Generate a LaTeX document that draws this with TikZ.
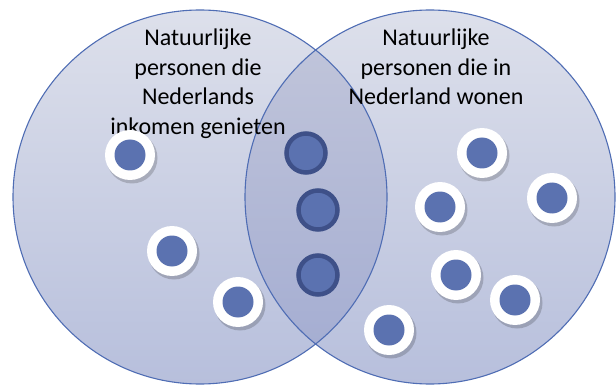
\documentclass[tikz,border=0pt]{standalone}
\usepackage{fontspec}
\setmainfont{Carlito}
\usepackage{xcolor}
\usepackage{tikz}
\definecolor{setedge}{HTML}{4F6DB4}
\definecolor{settop}{HTML}{DDE0EB}
\definecolor{setbot}{HTML}{B7BFDC}
\definecolor{bothtop}{HTML}{C3C7DB}
\definecolor{bothbot}{HTML}{A2ABD1}
\definecolor{dotblue}{HTML}{5B72B0}
\definecolor{dotrim}{HTML}{3E5088}
\tikzstyle{label}=[align=center, inner sep=0pt, anchor=north, font=\fontsize{24}{29.5}\selectfont]
\tikzstyle{ring}=[circle, fill=white, minimum size=50pt, inner sep=0pt]
\tikzstyle{member}=[circle, fill=dotblue, minimum size=31pt, inner sep=0pt]
\tikzstyle{shared}=[circle, fill=dotblue, draw=dotrim, line width=4.5pt, minimum size=39pt, inner sep=0pt]

\begin{document}
\begin{tikzpicture}[x=1pt, y=-1pt]
        \useasboundingbox (0,0) rectangle (616,385);
        % the two sets
        \shade[top color=settop, bottom color=setbot] (200,197) ellipse (187 and 187);
        \shade[top color=settop, bottom color=setbot] (430,197) ellipse (185 and 187);
        \begin{scope}
            \clip (200,197) ellipse (187 and 187);
            \shade[top color=bothtop, bottom color=bothbot] (430,197) ellipse (185 and 187);
        \end{scope}
        \draw[setedge, line width=1.1pt] (200,197) ellipse (187 and 187);
        \draw[setedge, line width=1.1pt] (430,197) ellipse (185 and 187);
        \node[label] (inkomen) at (198,29) {Natuurlijke\\personen die\\Nederlands\\inkomen genieten};
        \node[label] (wonen) at (436,29) {Natuurlijke\\personen die in\\Nederland wonen};
        % persons in one set only
        \foreach \x/\y [count=\i] in {130/155, 172/251, 238/302, 482/153, 552/198, 440/207, 456/275, 515/300, 389/330} {
             \fill[black, opacity=0.18] (\x+2,\y+3) circle (25.5pt);
             \node[ring] (r\i) at (\x,\y) {};
             \node[member] (p\i) at (r\i) {};
        }
        % persons in both sets
        \foreach \x/\y [count=\i] in {306/153, 318/210, 318/275} {
             \node[shared] (b\i) at (\x,\y) {};
        }
    \end{tikzpicture}
\end{document}
